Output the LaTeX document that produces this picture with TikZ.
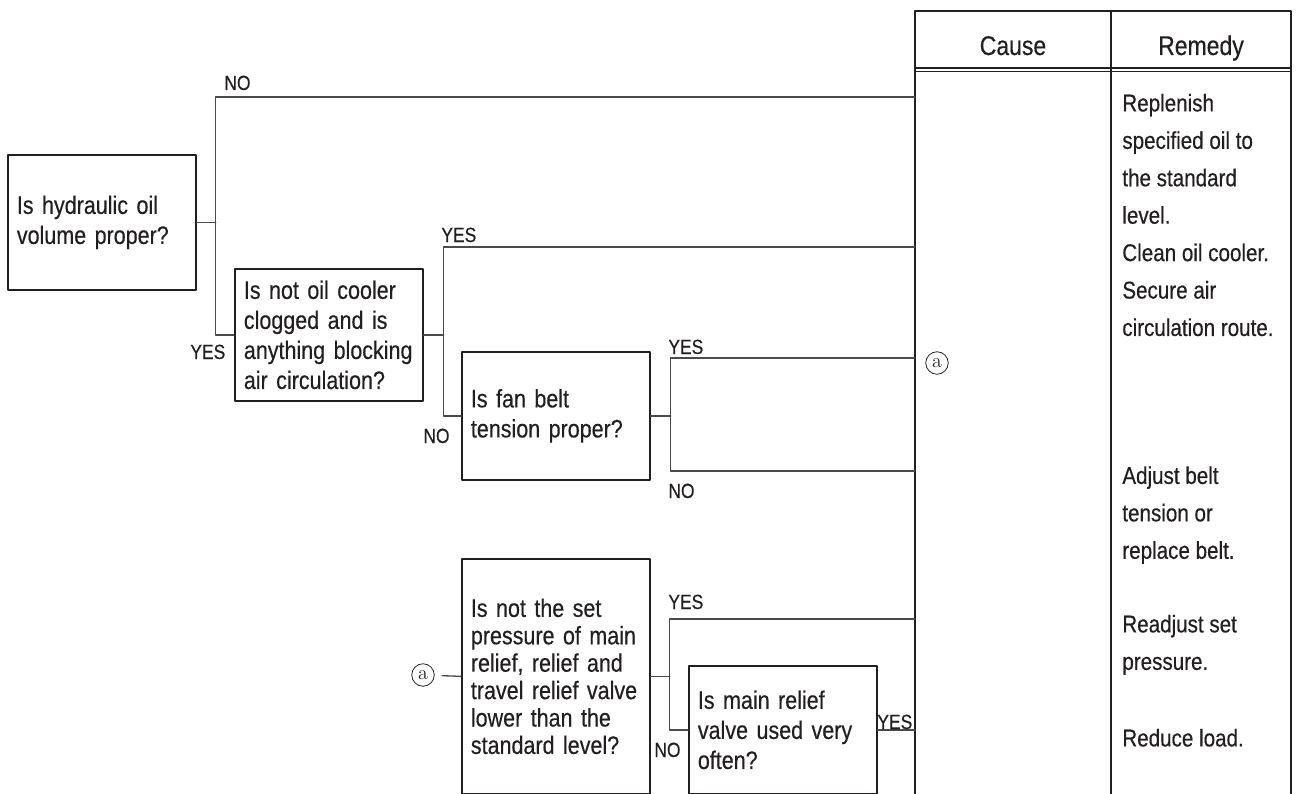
\documentclass[tikz,border=0pt]{standalone}
\usepackage{fontspec}
\newfontfamily\flowfont{Liberation Sans}[FakeStretch=0.85, FakeBold=0.4]
\definecolor{ink}{HTML}{231F20}
\definecolor{wiregray}{HTML}{4A4A4A}

\begin{document}
\begin{tikzpicture}[x=0.02cm, y=-0.02cm, line cap=round, line join=round,
    ask/.style={rectangle, draw=ink, line width=1pt, anchor=north west, align=left, text=ink,
      text width=3.4cm, inner xsep=0.18cm, inner ysep=0pt, minimum width=3.76cm,
      execute at begin node={\hyphenpenalty=10000\relax},
      font=\flowfont\fontsize{14.4}{17.1}\selectfont},
    answer/.style={inner sep=0pt, text=ink, font=\flowfont\fontsize{11.7}{14}\selectfont},
    wire/.style={draw=wiregray, line width=0.75pt},
    tableline/.style={draw=ink, line width=1.15pt},
    head/.style={inner sep=0pt, text=ink, font=\flowfont\fontsize{15.4}{18}\selectfont},
    remedy/.style={anchor=north west, align=left, inner sep=0pt, text=ink,
      font=\flowfont\fontsize{13.8}{21.3}\selectfont},
    circmark/.style={circle, draw=ink, line width=0.45pt, inner sep=0pt, minimum size=0.45cm,
      text=ink, font=\fontsize{11.4}{12}\selectfont}]
  \useasboundingbox (0,0) rectangle (1306,794);
  % Questions
  \node [ask, minimum height=2.7cm] (check-1) at (7,154) {Is hydraulic oil\\volume proper?};
  \node [ask, minimum height=2.64cm] (check-2) at (234,268) {Is not oil cooler\\clogged and is\\anything blocking\\air circulation?};
  \node [ask, minimum height=2.56cm, minimum width=3.74cm] (check-3) at (461,351) {Is fan belt\\tension proper?};
  \node [ask, minimum height=4.7cm, font=\flowfont\fontsize{14.4}{15.6}\selectfont] (check-4) at (461,558) {Is not the set\\pressure of main\\relief, relief and\\travel relief valve\\lower than the\\standard level?};
  \node [ask, minimum height=2.56cm] (check-5) at (688,665) {Is main relief\\valve used very\\often?};
  % Marks
  \node [circmark] (mark-1) at (937,363) {a};
  \node [circmark] (mark-2) at (423,675) {a};
  % Table
  \draw [tableline] (915,794) -- (915,11) -- (1291,11) -- (1291,794);
  \draw [tableline] (1111,11) -- (1111,794);
  \draw [tableline, line width=0.8pt] (915,68) -- (1291,68) (915,71.5) -- (1291,71.5);
  \node [head, anchor=base] (cause) at (1013,55) {Cause};
  \node [head, anchor=base] (remedy) at (1201,55) {Remedy};
  % Remedies
  \node [remedy] (fix-1) at (1122,93.5) {Replenish\\specified oil to\\the standard\\level.\\Clean oil cooler.\\Secure air\\circulation route.};
  \node [remedy] (fix-2) at (1122,466) {Adjust belt\\tension or\\replace belt.};
  \node [remedy] (fix-3) at (1122,614.5) {Readjust set\\pressure.};
  \node [remedy] (fix-4) at (1122,728.5) {Reduce load.};
  % Table entries
  \coordinate (to-1) at (915,97);
  \coordinate (to-2) at (915,247);
  \coordinate (to-3) at (915,358);
  \coordinate (to-4) at (915,471);
  \coordinate (to-5) at (915,619);
  % Branches
  \draw [wire] (check-1.east) -- ++(19,0) coordinate (split-1);
  \draw [wire] (check-2.west) -| (split-1) |- (to-1);
  \draw [wire] (check-2.east) -- ++(20,0) coordinate (split-2);
  \draw [wire] (check-3.west) -| (split-2) |- (to-2);
  \draw [wire] (check-3.east) -- ++(20,0) coordinate (split-3);
  \draw [wire] (to-3) -| (split-3) |- (to-4);
  \draw [wire, shorten <=0.15cm] (mark-2) -- (check-4.west);
  \draw [wire] (check-4.east) -- ++(19,0) coordinate (split-4);
  \draw [wire] (to-5) -| (split-4) |- (check-5.west);
  \draw [wire] (check-5.east) -- (check-5.east -| to-1);
  % Answers
  \foreach \t/\x/\y [count=\i] in {NO/224/90, YES/190/359, YES/441/242, NO/423/443, YES/668/354,
      NO/668/498, YES/668/609, NO/654/757, YES/877/729}
    \node [answer, anchor=base west] (answer-\i) at (\x,\y) {\t};
\end{tikzpicture}
\end{document}
